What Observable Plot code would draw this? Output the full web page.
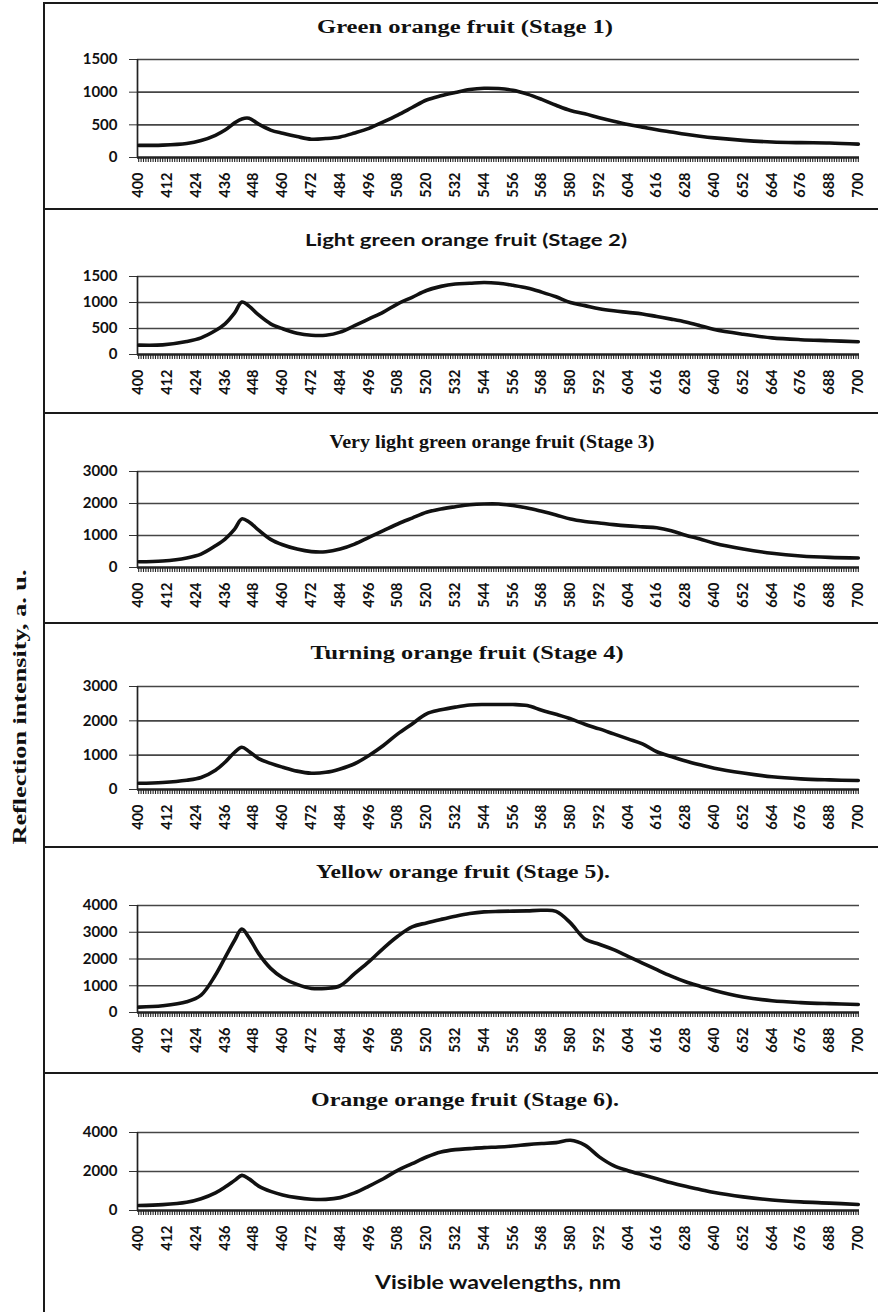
<!DOCTYPE html>
<html><head><meta charset="utf-8">
<script src="https://cdn.jsdelivr.net/npm/d3@7"></script>
<script src="https://cdn.jsdelivr.net/npm/@observablehq/plot@0.6"></script>
<style>
html,body{margin:0;padding:0;background:#fff;}
#fig{position:relative;width:878px;height:1312px;overflow:hidden;background:#fff;}
.panel{position:absolute;left:0;}
#overlay{position:absolute;left:0;top:0;pointer-events:none;}
</style></head><body><div id="fig"></div>
<script>
// ---------- data ----------
const wavelengths = [400,410,420,426,432,436,440,443,446,450,455,460,466,472,478,484,490,496,502,508,514,520,526,532,538,544,550,556,562,568,574,580,586,592,598,604,610,616,622,628,634,640,652,664,676,688,700];

const stage1 = [185,190,215,260,340,420,530,590,600,510,420,370,320,280,290,315,375,445,545,650,765,880,945,995,1040,1060,1055,1030,970,890,800,720,670,610,555,505,465,425,390,355,325,300,262,237,227,222,205];
const stage2 = [180,185,250,320,460,590,800,1010,930,760,590,495,410,370,370,430,555,685,815,975,1100,1230,1310,1355,1370,1385,1370,1330,1280,1200,1110,1000,940,880,840,810,780,730,680,625,555,480,390,320,285,265,245];
const stage3 = [180,205,300,420,680,890,1200,1520,1420,1170,880,710,575,495,490,575,730,940,1150,1360,1545,1725,1830,1900,1960,1985,1985,1935,1860,1755,1640,1515,1440,1390,1340,1300,1270,1240,1150,1010,890,760,578,445,360,315,295];
const stage4 = [180,205,270,350,560,795,1085,1230,1110,900,760,650,535,475,500,600,750,990,1280,1620,1910,2205,2320,2400,2460,2475,2475,2475,2445,2310,2190,2060,1900,1765,1620,1475,1330,1100,960,830,720,620,480,370,310,280,260];
const stage5 = [200,250,400,650,1400,2050,2700,3120,2800,2200,1650,1300,1050,900,900,1000,1450,1900,2400,2850,3200,3350,3480,3600,3700,3760,3780,3790,3800,3820,3780,3350,2750,2550,2350,2100,1850,1600,1360,1150,980,820,580,440,370,330,300];
const stage6 = [260,300,420,600,900,1200,1545,1800,1620,1250,980,800,660,580,570,660,900,1250,1630,2060,2400,2745,3000,3120,3175,3225,3260,3310,3380,3435,3480,3600,3350,2750,2300,2040,1830,1630,1420,1240,1080,920,700,540,440,380,310];

const titles = [
  "Green orange fruit (Stage 1)",
  "Light  green orange fruit (Stage 2)",
  "Very light  green orange fruit (Stage 3)",
  "Turning orange fruit (Stage 4)",
  "Yellow orange fruit (Stage 5).",
  "Orange  orange fruit (Stage 6)."
];
const yTicks1500 = [0, 500, 1000, 1500];
const yTicks3000 = [0, 1000, 2000, 3000];
const yTicks4000a = [0, 1000, 2000, 3000, 4000];
const yTicks4000b = [0, 2000, 4000];
const xTickLabels = [400,412,424,436,448,460,472,484,496,508,520,532,544,556,568,580,592,604,616,628,640,652,664,676,688,700];
const xTitle = "Visible wavelengths, nm";
const yTitle = "Reflection intensity, a. u.";

// ---------- layout (pixels) ----------
const panels = [
  {values: stage1, ticks: yTicks1500, top: 59,   zero: 157,  title: {x: 465, y: 27,   w: 296, serif: true}},
  {values: stage2, ticks: yTicks1500, top: 276,  zero: 354,  title: {x: 466, y: 239,  w: 322, serif: false}},
  {values: stage3, ticks: yTicks3000, top: 471,  zero: 567,  title: {x: 492, y: 442,  w: 325, serif: true}},
  {values: stage4, ticks: yTicks3000, top: 686,  zero: 789,  title: {x: 467, y: 653,  w: 313, serif: true}},
  {values: stage5, ticks: yTicks4000a, top: 905, zero: 1012, title: {x: 463, y: 872,  w: 294, serif: true}},
  {values: stage6, ticks: yTicks4000b, top: 1132, zero: 1210, title: {x: 465, y: 1100, w: 308, serif: true}}
];
const separators = [3, 209, 413, 623, 847, 1073];
const borderX = 44;

const fig = document.getElementById("fig");
const denseTicks = d3.range(400, 701, 1);
const SANS = "Lato, 'Open Sans', sans-serif";
const SERIF = "'Liberation Serif', 'DejaVu Serif', serif";

panels.forEach((p, i) => {
  const mt = 8, mb = 60;
  const yMax = p.ticks[p.ticks.length - 1];
  const data = wavelengths.map((w, j) => ({w, v: p.values[j]}));
  const chart = Plot.plot({
    width: 878,
    height: mt + (p.zero - p.top) + mb,
    marginLeft: 137, marginRight: 19, marginTop: mt, marginBottom: mb,
    style: {background: "transparent", fontFamily: SANS, overflow: "visible", color: "#111"},
    x: {domain: [399.5, 700.5]},
    y: {domain: [0, yMax]},
    marks: [
      Plot.gridY(p.ticks.filter(t => t > 0), {stroke: "#454545", strokeOpacity: 1, strokeWidth: 1.7}),
      Plot.axisY(p.ticks, {tickSize: 8, tickPadding: 12, tickFormat: d => String(d), fontSize: 15, fontWeight: "bold", label: null, stroke: "#333"}),
      Plot.ruleX([399.5], {y1: 0, y2: yMax, stroke: "#222", strokeWidth: 1.7}),
      Plot.axisX(denseTicks, {tickSize: 5, tickFormat: () => "", label: null, strokeWidth: 1.1, stroke: "#222"}),
      Plot.ruleY([0], {stroke: "#222", strokeWidth: 2.4}),
      Plot.axisX(xTickLabels, {tickSize: 0, tickRotate: -90, tickPadding: 15, tickFormat: d => String(d), fontSize: 14.5, fontWeight: "bold", label: null}),
      Plot.line(data, {x: "w", y: "v", curve: "catmull-rom", stroke: "#111", strokeWidth: 3.6})
    ]
  });
  chart.classList.add("panel");
  chart.style.top = (p.top - mt) + "px";
  fig.appendChild(chart);
});

// ---------- frame, titles ----------
const NS = "http://www.w3.org/2000/svg";
const ov = document.createElementNS(NS, "svg");
ov.setAttribute("id", "overlay");
ov.setAttribute("width", 878);
ov.setAttribute("height", 1312);
fig.appendChild(ov);
function line(x1, y1, x2, y2, w) {
  const l = document.createElementNS(NS, "line");
  l.setAttribute("x1", x1); l.setAttribute("y1", y1);
  l.setAttribute("x2", x2); l.setAttribute("y2", y2);
  l.setAttribute("stroke", "#1a1a1a"); l.setAttribute("stroke-width", w);
  ov.appendChild(l);
}
line(borderX, 2, borderX, 1312, 2);
separators.forEach(y => line(borderX, y, 878, y, 2.2));

function text(str, x, y, len, family, size, rotate) {
  const t = document.createElementNS(NS, "text");
  t.textContent = str;
  t.setAttribute("transform", `translate(${x},${y})` + (rotate ? ` rotate(${rotate})` : ""));
  t.setAttribute("text-anchor", "middle");
  t.setAttribute("dominant-baseline", "central");
  t.setAttribute("font-family", family);
  t.setAttribute("font-weight", "bold");
  t.setAttribute("font-size", size);
  t.setAttribute("fill", "#111");
  t.setAttribute("textLength", len);
  t.setAttribute("lengthAdjust", "spacingAndGlyphs");
  ov.appendChild(t);
}
panels.forEach((p, i) => text(titles[i], p.title.x, p.title.y, p.title.w, p.title.serif ? SERIF : SANS, p.title.serif ? 18 : 17, 0));
text(xTitle, 498, 1282, 246, SANS, 18, 0);
text(yTitle, 19, 707, 275, SERIF, 19, -90);
</script>
</body></html>
